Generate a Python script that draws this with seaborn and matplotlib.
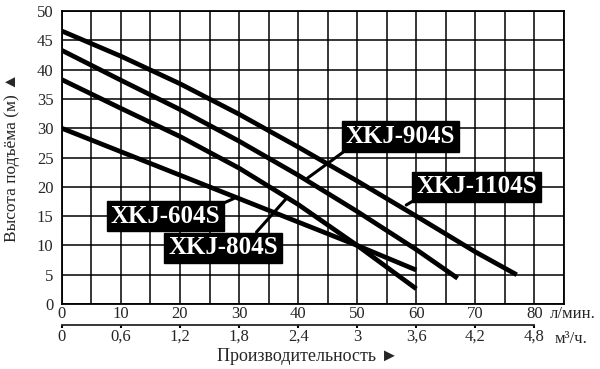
import numpy as np
import pandas as pd
import seaborn as sns
from matplotlib import pyplot as plt

# pump curves: flow (l/min) vs head (m)
flow_1104 = [0, 10, 20, 30, 40, 50, 60, 70, 77]
head_1104 = [46.6, 42.3, 37.6, 32.4, 26.8, 21.0, 15.0, 8.9, 5.0]
flow_904 = [0, 10, 20, 30, 40, 50, 60, 67]
head_904 = [43.3, 38.2, 33.2, 27.8, 22.0, 15.8, 9.3, 4.4]
flow_804 = [0, 10, 20, 30, 40, 50, 60]
head_804 = [38.3, 33.4, 28.6, 23.2, 17.0, 10.0, 2.6]
flow_604 = [0, 10, 20, 30, 40, 50, 60]
head_604 = [30.0, 26.0, 22.0, 18.0, 14.0, 10.0, 5.8]

x_ticks = [0, 10, 20, 30, 40, 50, 60, 70, 80]
m3_ticks = [0, 0.6, 1.2, 1.8, 2.4, 3, 3.6, 4.2, 4.8]
m3_labels = ["0", "0,6", "1,2", "1,8", "2,4", "3", "3,6", "4,2", "4,8"]
y_ticks = [0, 5, 10, 15, 20, 25, 30, 35, 40, 45, 50]

sns.set_style("white")
plt.rcParams['font.family'] = ['Liberation Serif', 'DejaVu Sans']

fig = plt.figure(figsize=(6, 3.69), dpi=100)
ax = fig.add_axes([0.103, 0.176, 0.837, 0.794])

for fl, hd in [(flow_1104, head_1104), (flow_904, head_904),
               (flow_804, head_804), (flow_604, head_604)]:
    df = pd.DataFrame({"flow": fl, "head": hd})
    sns.lineplot(data=df, x="flow", y="head", color="black", lw=3.4, ax=ax,
                 solid_capstyle="butt")

ax.set_xlim(0, 85)
ax.set_ylim(0, 50)
ax.set_xticks(x_ticks)
ax.set_xticks(np.arange(0, 86, 5), minor=True)
ax.set_yticks(y_ticks)
ax.grid(which="both", color="black", lw=1.1)
ax.tick_params(axis="x", which="both", length=0, pad=1.5, labelsize=12)
ax.tick_params(axis="y", length=0, pad=6, labelsize=12)
for s in ax.spines.values():
    s.set_color("black")
    s.set_linewidth(1.3)

# second scale in m3/h
secax = ax.secondary_xaxis(-0.072, functions=(lambda v: v * 0.06, lambda v: v / 0.06))
secax.set_xticks(m3_ticks)
secax.set_xticklabels(m3_labels)
secax.spines["bottom"].set_bounds(0, 4.8)
secax.spines["bottom"].set_linewidth(1.3)
secax.tick_params(length=2, width=1.5, pad=0.5, labelsize=12, color="black")

ax.text(0.972, -0.008, "л/мин.", transform=ax.transAxes, fontsize=12, va="top")
ax.text(0.981, -0.093, "м³/ч.", transform=ax.transAxes, fontsize=12, va="top")

ax.set_xlabel("Производительность ►", fontsize=13)
ax.xaxis.set_label_coords(0.49, -0.15)
ax.set_ylabel("Высота подъёма (м) ▲", fontsize=12.5)
ax.yaxis.set_label_coords(-0.083, 0.5)

box = dict(facecolor="black", edgecolor="black", boxstyle="square,pad=0.15")
lead = dict(arrowstyle="-", lw=2.2, color="black", shrinkA=0, shrinkB=0)
labels = [("XKJ-904S", (41.6, 21.5), (57.3, 28.6), (0.03, 0)),
          ("XKJ-1104S", (58.3, 16.9), (70.2, 20.0), (0.01, 0)),
          ("XKJ-604S", (29.1, 18.0), (17.5, 15.0), (1, 1)),
          ("XKJ-804S", (37.9, 17.9), (27.3, 9.6), (0.77, 1))]
for name, xy, xyt, rp in labels:
    ax.annotate(name, xy=xy, xytext=xyt, ha="center", va="center",
                color="white", fontsize=18, fontweight="bold", bbox=box,
                arrowprops=dict(lead, relpos=rp), zorder=5)

fig.savefig("out.png", dpi=100)
